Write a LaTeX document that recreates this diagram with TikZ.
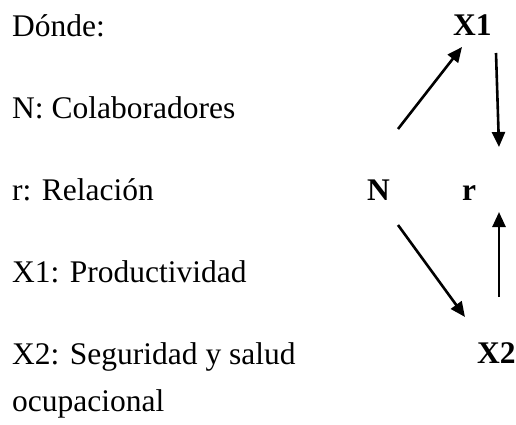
\documentclass[tikz,border=0pt]{standalone}
\usepackage{fontspec}
\setmainfont{Liberation Serif}
\usetikzlibrary{arrows.meta}
\tikzset{
  txt/.style={anchor=base west,inner sep=0pt,font=\fontsize{31.5}{38}\selectfont},
  var/.style={anchor=base west,inner sep=0pt,font=\fontsize{31.5}{38}\selectfont\bfseries},
  arr/.style={line width=2.6pt,-{Triangle[length=15pt,width=13pt]}}
}
\begin{document}
\begin{tikzpicture}[x=1pt,y=1pt]
\useasboundingbox (0,0) rectangle (516,-425);
\node[txt] (t0) at (12,-37) {Dónde:};
\node[txt] (t1) at (12,-118) {N: Colaboradores};
\node[txt] (t2) at (12,-200) {r: Relación};
\node[txt] (t3) at (12,-282) {X1: Productividad};
\node[txt] (t4) at (12,-364) {X2: Seguridad y salud};
\node[txt] (t5) at (12,-411) {ocupacional};
\node[var] (x1) at (453,-36) {X1};
\node[var] (n) at (367,-200) {N};
\node[var] (r) at (462,-200) {r};
\node[var] (x2) at (477,-363) {X2};
\coordinate (a1s) at (398,-129);
\coordinate (a1e) at (462,-47);
\coordinate (a2s) at (496,-53);
\coordinate (a2e) at (499,-147);
\coordinate (a3s) at (499,-297);
\coordinate (a3e) at (499,-212);
\coordinate (a4s) at (398,-225);
\coordinate (a4e) at (465,-317);
\draw[arr] (a1s) -- (a1e);
\draw[arr] (a2s) -- (a2e);
\draw[arr] (a3s) -- (a3e);
\draw[arr] (a4s) -- (a4e);
\end{tikzpicture}
\end{document}
